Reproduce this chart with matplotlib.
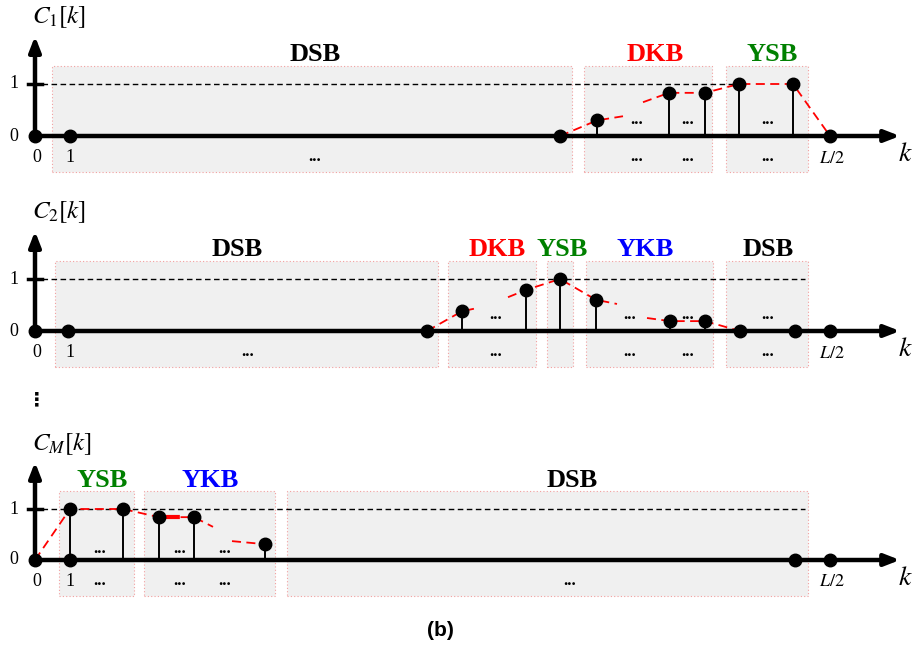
import matplotlib
matplotlib.use("Agg")
import matplotlib.pyplot as plt
from matplotlib.patches import Rectangle

plt.rcParams['mathtext.fontset'] = 'stix'
SERIF = 'Liberation Serif'

W, H = 918, 646

# ---------------- data ----------------
# panel 1
p1_pos = [35, 70, 560, 597, 669, 705, 739, 793, 830]
p1_val = [0, 0, 0, 0.30, 0.83, 0.83, 1.0, 1.0, 0]
p1_env = [([560, 597, 623], [0, 0.30, 0.38]),
          ([643, 669, 705, 739, 793, 830], [0.65, 0.83, 0.83, 1.0, 1.0, 0])]
p1_band_x0 = [52, 584, 726]
p1_band_x1 = [572, 712, 808]
p1_band_names = ['DSB', 'DKB', 'YSB']
p1_band_colors = ['black', 'red', 'green']
p1_label_x = [315, 655, 772]
p1_dots_above = [637, 688, 768]
p1_dots_below = [315, 637, 688, 768]
p1_ref_end = 737

# panel 2
p2_pos = [35, 68, 427, 462, 526, 560, 596, 670, 705, 740, 795, 830]
p2_val = [0, 0, 0, 0.38, 0.79, 1.0, 0.60, 0.19, 0.19, 0, 0, 0]
p2_env = [([427, 462, 477], [0, 0.38, 0.44]),
          ([508, 526, 560, 596, 617], [0.65, 0.79, 1.0, 0.60, 0.52]),
          ([647, 670, 705, 740], [0.25, 0.19, 0.19, 0])]
p2_band_x0 = [55, 448, 547, 586, 726]
p2_band_x1 = [438, 536, 573, 713, 808]
p2_band_names = ['DSB', 'DKB', 'YSB', 'YKB', 'DSB']
p2_band_colors = ['black', 'red', 'green', 'blue', 'black']
p2_label_x = [237, 497, 562, 645, 768]
p2_dots_above = [496, 630, 688, 768]
p2_dots_below = [248, 496, 630, 688, 768]
p2_ref_end = 805

# panel M
p3_pos = [35, 70, 70, 123, 159, 194, 265, 795, 830]
p3_val = [0, 0, 1.0, 1.0, 0.84, 0.84, 0.31, 0, 0]
p3_env = [([35, 70, 123, 159, 194, 213], [0, 1.0, 1.0, 0.84, 0.84, 0.65]),
          ([232, 265], [0.37, 0.31])]
p3_env_thick = ([159, 194], [0.84, 0.84])
p3_band_x0 = [59, 144, 287]
p3_band_x1 = [134, 275, 808]
p3_band_names = ['YSB', 'YKB', 'DSB']
p3_band_colors = ['green', 'blue', 'black']
p3_label_x = [102, 210, 572]
p3_dots_above = [100, 180, 225]
p3_dots_below = [100, 180, 225, 570]
p3_ref_end = 805

fig = plt.figure(figsize=(W / 100, H / 100), dpi=100)


def make_ax(top_px, bot_px, zero_px, unit_px):
    ax = fig.add_axes([0, 1 - bot_px / H, 1, (bot_px - top_px) / H])
    ax.set_xlim(0, W)
    ax.set_ylim((zero_px - bot_px) / unit_px, (zero_px - top_px) / unit_px)
    ax.axis('off')
    return ax


def draw_panel(ax, pos, val, envs, bx0, bx1, names, colors, lx,
               dots_above, dots_below, ref_end, ylab, dots_above_y, dots_below_y,
               band_top=1.35, band_bot=-0.70, label_y=1.56):
    # bands
    for x0, x1 in zip(bx0, bx1):
        ax.add_patch(Rectangle((x0, band_bot), x1 - x0, band_top - band_bot,
                               facecolor='#f0f0f0', edgecolor='#f2a0a0',
                               linestyle=(0, (1, 2)), linewidth=0.8, zorder=0))
    for x, n, c in zip(lx, names, colors):
        ax.text(x, label_y, n, ha='center', va='center', fontsize=19,
                fontweight='bold', family=SERIF, color=c, zorder=5)
    # reference line y=1
    ax.plot([42, ref_end], [1, 1], color='black', lw=1.0,
            dashes=(4, 2.5), zorder=2)
    # axes
    ax.annotate('', xy=(900, 0), xytext=(33, 0),
                arrowprops=dict(arrowstyle='-|>,head_length=0.9,head_width=0.35',
                                lw=3.2, color='black', shrinkA=0, shrinkB=0),
                zorder=4)
    ax.annotate('', xy=(35, 1.92), xytext=(35, -0.02),
                arrowprops=dict(arrowstyle='-|>,head_length=0.9,head_width=0.35',
                                lw=3.2, color='black', shrinkA=0, shrinkB=0),
                zorder=4)
    ax.plot([28, 42], [1, 1], color='black', lw=2.5, zorder=4)
    # envelopes
    for ex, ey in envs:
        ax.plot(ex, ey, color='red', lw=1.3, dashes=(5, 3), zorder=3)
    # stems
    for x, v in zip(pos, val):
        if v > 0:
            ax.plot([x, x], [0, v], color='black', lw=1.4, zorder=4)
    ax.plot(pos, val, 'o', color='black', markersize=9, zorder=6)
    # dots
    for x in dots_above:
        ax.text(x, dots_above_y, '...', ha='center', va='center', fontsize=12,
                fontweight='bold', family=SERIF, zorder=5)
    for x in dots_below:
        ax.text(x, dots_below_y, '...', ha='center', va='center', fontsize=12,
                fontweight='bold', family=SERIF, zorder=5)
    # tick labels
    ax.text(14, 1, '1', ha='center', va='center', fontsize=13, family=SERIF)
    ax.text(14, 0, '0', ha='center', va='center', fontsize=13, family=SERIF)
    ax.text(37, -0.42, '0', ha='center', va='center', fontsize=13, family=SERIF)
    ax.text(70, -0.42, '1', ha='center', va='center', fontsize=13, family=SERIF)
    ax.text(832, -0.42, r'$L/2$', ha='center', va='center', fontsize=13)
    ax.text(905, -0.33, r'$k$', ha='center', va='center', fontsize=20)
    ax.text(32, 2.29, ylab, ha='left', va='center', fontsize=18)


ax1 = make_ax(0, 190, 136, 52)
draw_panel(ax1, p1_pos, p1_val, p1_env, p1_band_x0, p1_band_x1,
           p1_band_names, p1_band_colors, p1_label_x,
           p1_dots_above, p1_dots_below, p1_ref_end, r'$C_1[k]$', 0.30, -0.40)

ax2 = make_ax(190, 390, 331, 52)
draw_panel(ax2, p2_pos, p2_val, p2_env, p2_band_x0, p2_band_x1,
           p2_band_names, p2_band_colors, p2_label_x,
           p2_dots_above, p2_dots_below, p2_ref_end, r'$C_2[k]$', 0.30, -0.40)

ax3 = make_ax(390, 646, 560, 51)
draw_panel(ax3, p3_pos, p3_val, p3_env, p3_band_x0, p3_band_x1,
           p3_band_names, p3_band_colors, p3_label_x,
           p3_dots_above, p3_dots_below, p3_ref_end, r'$C_M[k]$', 0.22, -0.42)
ax3.plot(p3_env_thick[0], p3_env_thick[1], color='red', lw=3, dashes=(5, 3), zorder=3)

fig.text(37 / W, 1 - 400 / H, '⋮', ha='center', va='center', fontsize=14,
         fontweight='bold', family='DejaVu Sans')
fig.text(440 / W, 1 - 631 / H, '(b)', ha='center', va='center', fontsize=15,
         fontweight='bold', family='Liberation Sans')

fig.savefig('out.png', dpi=100)
